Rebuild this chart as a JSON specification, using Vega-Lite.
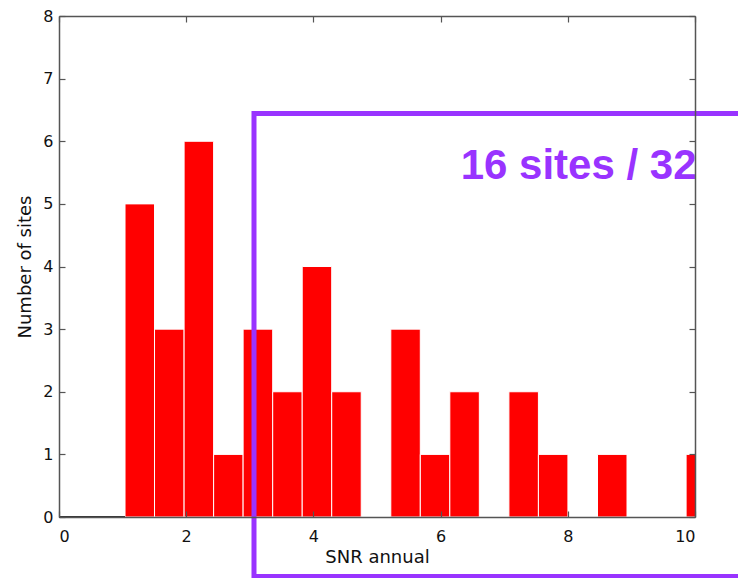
{
  "$schema": "https://vega.github.io/schema/vega-lite/v6.json",
  "width": 636,
  "height": 501,
  "autosize": "none",
  "padding": {"left": 59, "top": 16, "right": 43, "bottom": 61},
  "background": "white",
  "config": {
    "view": {"stroke": null},
    "axis": {
      "grid": false,
      "domainColor": "#555555",
      "domainWidth": 1.5,
      "tickColor": "#555555",
      "tickWidth": 1.2,
      "tickSize": -6,
      "labelFont": "DejaVu Sans",
      "labelFontSize": 16,
      "labelColor": "#111111",
      "titleFont": "DejaVu Sans",
      "titleFontSize": 18,
      "titleFontWeight": "normal",
      "titleColor": "#111111"
    }
  },
  "datasets": {
    "hist": [
      {"lo": 1.038, "hi": 1.502, "count": 5},
      {"lo": 1.502, "hi": 1.967, "count": 3},
      {"lo": 1.967, "hi": 2.431, "count": 6},
      {"lo": 2.431, "hi": 2.895, "count": 1},
      {"lo": 2.895, "hi": 3.360, "count": 3},
      {"lo": 3.360, "hi": 3.824, "count": 2},
      {"lo": 3.824, "hi": 4.288, "count": 4},
      {"lo": 4.288, "hi": 4.752, "count": 2},
      {"lo": 5.217, "hi": 5.681, "count": 3},
      {"lo": 5.681, "hi": 6.145, "count": 1},
      {"lo": 6.145, "hi": 6.609, "count": 2},
      {"lo": 7.074, "hi": 7.538, "count": 2},
      {"lo": 7.538, "hi": 8.002, "count": 1},
      {"lo": 8.467, "hi": 8.931, "count": 1},
      {"lo": 9.860, "hi": 10.324, "count": 1}
    ],
    "baseline": [{"from": 0, "to": 1.038, "level": 0}],
    "box": [{"x1": 3.066, "x2": 11, "y1": -0.95, "y2": 6.443}],
    "note": [{"x": 6.316, "y": 5.397, "label": "16 sites / 32"}]
  },
  "layer": [
    {
      "data": {"name": "hist"},
      "mark": {"type": "rect", "color": "#ff0000", "stroke": "#ffffff", "strokeWidth": 1, "clip": true},
      "encoding": {
        "x": {
          "field": "lo", "type": "quantitative",
          "scale": {"domain": [0, 10], "nice": false, "zero": false},
          "axis": {"orient": "bottom", "values": [0, 2, 4, 6, 8, 10], "title": "SNR annual", "labelPadding": 17, "titlePadding": 4, "zindex": 1}
        },
        "x2": {"field": "hi"},
        "y": {
          "field": "count", "type": "quantitative",
          "scale": {"domain": [0, 8], "nice": false},
          "axis": {"orient": "left", "values": [0, 1, 2, 3, 4, 5, 6, 7, 8], "title": "Number of sites", "labelPadding": 12, "titlePadding": 8, "zindex": 1}
        },
        "y2": {"datum": 0}
      }
    },
    {
      "data": {"name": "baseline"},
      "mark": {"type": "rule", "color": "#333333", "strokeWidth": 2},
      "encoding": {
        "x": {"field": "from", "type": "quantitative", "axis": null},
        "x2": {"field": "to"},
        "y": {"field": "level", "type": "quantitative", "axis": null}
      }
    },
    {
      "data": {"name": "note"},
      "mark": {"type": "text", "align": "left", "baseline": "alphabetic", "font": "Liberation Sans", "fontSize": 42, "fontWeight": "bold", "color": "#9933ff", "clip": false},
      "encoding": {
        "x": {
          "field": "x", "type": "quantitative",
          "axis": {"orient": "top", "values": [0, 2, 4, 6, 8, 10], "labels": false, "title": null, "zindex": 1}
        },
        "y": {
          "field": "y", "type": "quantitative",
          "axis": {"orient": "right", "values": [0, 1, 2, 3, 4, 5, 6, 7, 8], "labels": false, "title": null, "zindex": 1}
        },
        "text": {"field": "label"}
      }
    },
    {
      "data": {"name": "box"},
      "mark": {"type": "rect", "fill": null, "fillOpacity": 0, "stroke": "#9933ff", "strokeWidth": 5, "clip": false},
      "encoding": {
        "x": {"field": "x1", "type": "quantitative", "axis": null},
        "x2": {"field": "x2"},
        "y": {"field": "y1", "type": "quantitative", "axis": null},
        "y2": {"field": "y2"}
      }
    }
  ],
  "resolve": {"axis": {"x": "independent", "y": "independent"}}
}
